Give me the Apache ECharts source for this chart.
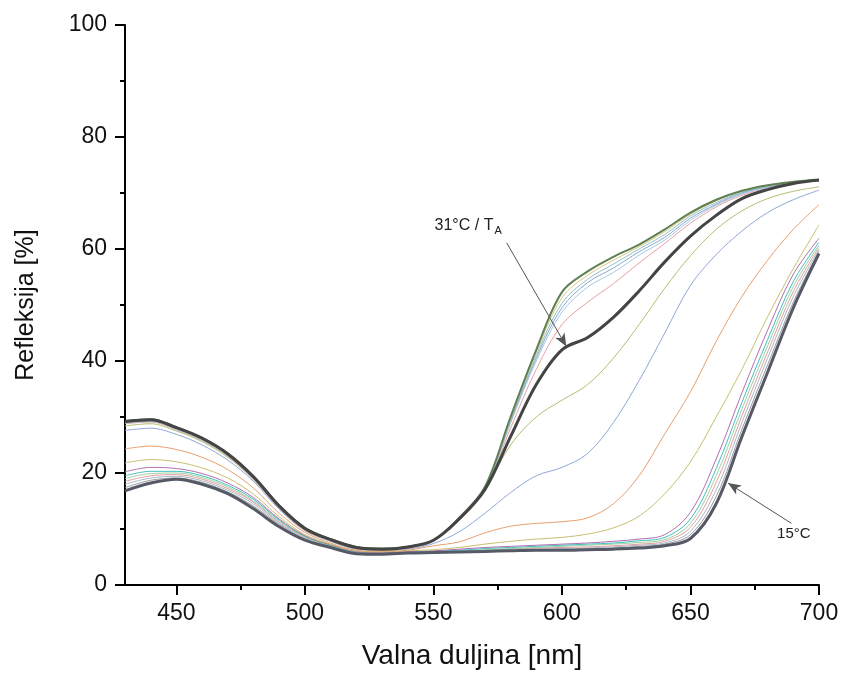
<!DOCTYPE html>
<html>
<head>
<meta charset="utf-8">
<script src="https://cdn.jsdelivr.net/npm/echarts@6/dist/echarts.min.js"></script>
<style>
html,body{margin:0;padding:0;background:#fff;}
#chart{width:843px;height:675px;}
</style>
</head>
<body>
<div id="chart"></div>
<script>
const wavelengths = [430,440,450,460,470,480,490,500,510,520,530,540,550,560,570,580,590,600,610,620,630,640,650,660,670,680,690,700];
const xMajorTicks = [450,500,550,600,650,700];
const xMinorTicks = [475,525,575,625,675];

const curve01 = [16.8,18.2,18.9,18.0,16.3,13.6,10.4,8.0,6.7,5.6,5.5,5.7,5.8,5.9,6.0,6.1,6.2,6.2,6.3,6.4,6.6,7.0,8.3,14.5,26.5,38.0,49.5,59.2];
const curve02 = [17.4,18.7,19.1,18.3,16.6,14.1,10.8,8.2,6.8,5.7,5.6,5.8,5.9,5.9,6.0,6.2,6.3,6.4,6.5,6.6,6.9,7.3,9.0,15.8,27.8,39.3,50.5,59.6];
const curve03 = [18.0,19.1,19.4,18.6,16.9,14.5,11.0,8.4,6.9,5.8,5.6,5.8,5.9,6.0,6.1,6.3,6.4,6.5,6.6,6.8,7.1,7.5,9.6,17.0,29.0,40.5,51.5,59.9];
const curve04 = [18.5,19.5,19.7,18.9,17.2,14.8,11.2,8.5,6.9,5.8,5.7,5.8,5.9,6.0,6.2,6.4,6.6,6.7,6.8,7.0,7.3,7.8,10.3,18.3,30.2,41.6,52.4,60.3];
const curve05 = [19.0,19.9,20.0,19.2,17.5,15.0,11.4,8.6,7.0,5.9,5.7,5.9,6.0,6.1,6.3,6.5,6.7,6.9,7.1,7.3,7.6,8.1,11.0,19.5,31.4,42.7,53.3,60.7];
const curve06 = [19.5,20.3,20.3,19.5,17.8,15.3,11.6,8.7,7.1,5.9,5.8,5.9,6.0,6.2,6.5,6.7,6.9,7.1,7.3,7.5,7.9,8.5,11.8,20.8,32.6,43.8,54.2,61.2];
const curve07 = [20.2,21.0,20.8,19.9,18.2,15.6,11.8,8.8,7.2,6.0,5.8,6.0,6.1,6.4,6.7,6.9,7.1,7.3,7.5,7.8,8.2,9.0,13.0,22.5,34.3,45.5,55.5,61.9];
const curve08 = [21.8,22.4,22.0,20.9,19.1,16.2,12.2,9.0,7.3,6.1,5.9,6.1,6.3,6.7,7.3,7.8,8.2,8.5,9.1,10.2,12.3,16.3,22.0,30.0,38.5,47.9,56.5,64.3];
const curve09 = [24.3,24.8,24.2,22.8,20.6,17.3,12.8,9.4,7.5,6.2,6.0,6.2,7.0,7.7,9.3,10.5,11.0,11.3,12.0,14.5,19.5,27.0,34.5,43.5,51.5,58.0,63.5,67.9];
const curve10 = [27.6,28.0,26.9,25.0,22.3,18.5,13.5,9.7,7.8,6.4,6.2,6.4,7.4,9.5,12.8,16.5,19.5,21.0,23.5,29.0,36.5,45.0,53.5,59.0,63.2,66.5,68.8,70.5];
const curve11 = [28.4,28.8,27.5,25.6,22.8,18.8,13.7,9.8,7.9,6.5,6.2,6.5,7.9,11.5,17.0,25.0,30.0,33.0,35.8,40.5,46.5,53.0,58.8,63.5,66.8,69.0,70.3,71.1];
const curve12 = [29.2,29.5,28.1,26.2,23.4,19.3,14.1,10.1,8.1,6.7,6.4,6.8,8.0,11.8,17.0,26.5,35.8,42.0,44.2,47.8,52.5,57.7,62.3,66.0,69.0,70.6,71.7,72.3];
const curve13 = [28.8,29.1,27.7,25.8,23.0,18.9,13.7,9.8,7.9,6.5,6.3,6.5,7.8,11.5,17.0,28.0,38.5,46.5,50.5,53.8,57.5,61.0,64.6,67.5,69.6,70.9,71.7,72.3];
const curve14 = [28.9,29.2,27.8,25.9,23.1,19.0,13.8,9.9,7.9,6.6,6.3,6.6,7.8,11.6,17.1,28.9,40.0,48.7,53.2,55.8,58.9,61.6,65.1,67.8,69.8,71.0,71.8,72.2];
const curve15 = [29.0,29.3,27.9,26.0,23.2,19.1,13.9,10.0,8.0,6.6,6.3,6.6,7.9,11.7,17.2,29.2,40.5,49.5,54.0,56.6,59.5,62.1,65.5,68.0,70.0,71.1,71.8,72.1];
const curve16 = [29.1,29.4,28.0,26.1,23.3,19.2,14.0,10.0,8.0,6.7,6.4,6.7,7.9,11.8,17.3,29.4,41.0,50.3,54.6,57.3,60.0,62.6,65.9,68.3,70.1,71.2,71.9,72.2];
const curve17 = [29.2,29.5,28.1,26.2,23.4,19.3,14.1,10.1,8.1,6.7,6.4,6.7,8.0,11.9,17.4,29.7,41.5,51.3,55.3,58.0,60.4,63.1,66.2,68.6,70.3,71.3,71.9,72.3];
const curve18 = [29.3,29.6,28.2,26.3,23.5,19.4,14.2,10.2,8.2,6.8,6.5,6.8,8.0,12.0,17.5,30.0,42.0,52.3,56.0,58.6,60.8,63.5,66.5,68.8,70.4,71.4,72.0,72.4];

const curves = [
  {d: curve02, c: '#9a9a9a', w: 1},
  {d: curve03, c: '#a8b8cc', w: 1},
  {d: curve04, c: '#e0a0a0', w: 1},
  {d: curve05, c: '#a0d0a0', w: 1},
  {d: curve06, c: '#40c0c0', w: 1},
  {d: curve07, c: '#b070b0', w: 1},
  {d: curve08, c: '#c8c070', w: 1},
  {d: curve09, c: '#e8a070', w: 1},
  {d: curve10, c: '#90a8d8', w: 1},
  {d: curve11, c: '#b0c070', w: 1},
  {d: curve13, c: '#e8a0a0', w: 1},
  {d: curve14, c: '#a8c8e8', w: 1},
  {d: curve15, c: '#88a8c8', w: 1},
  {d: curve16, c: '#90c0d0', w: 1},
  {d: curve17, c: '#d8c878', w: 1},
  {d: curve18, c: '#5f8055', w: 2},
  {d: curve01, c: '#555a66', w: 3, tag: '15'},
  {d: curve12, c: '#444444', w: 3, tag: '31'}
];

const font = 'Liberation Sans, Arial, sans-serif';

const series = curves.map(cv => {
  const s = {
    type: 'line',
    xAxisIndex: 0,
    data: wavelengths.map((w, i) => [w, cv.d[i]]),
    showSymbol: false,
    smooth: 0.35,
    lineStyle: {color: cv.c, width: cv.w},
    silent: true,
    z: cv.w > 1 ? 3 : 2
  };
  if (cv.tag === '31') {
    s.markLine = {
      silent: true, symbol: ['none', 'arrow'], symbolSize: [8, 13],
      lineStyle: {color: '#555', width: 1, type: 'solid'}, label: {show: false},
      data: [[{coord: [578.5, 61.1]}, {coord: [601.7, 42.6]}]]
    };
    s.markPoint = {
      silent: true, symbol: 'circle', symbolSize: 1, itemStyle: {color: 'rgba(0,0,0,0)'},
      label: {show: true, position: 'inside', formatter: '{a|31°C / T}{b|A}',
        rich: {a: {fontSize: 16, color: '#222', fontFamily: font}, b: {fontSize: 11, color: '#222', fontFamily: font, padding: [10, 0, 0, 1]}}},
      data: [{coord: [563.5, 64.2]}]
    };
  }
  if (cv.tag === '15') {
    s.markLine = {
      silent: true, symbol: ['none', 'arrow'], symbolSize: [8, 13],
      lineStyle: {color: '#555', width: 1, type: 'solid'}, label: {show: false},
      data: [[{coord: [689.3, 11.0]}, {coord: [664.6, 18.2]}]]
    };
    s.markPoint = {
      silent: true, symbol: 'circle', symbolSize: 1, itemStyle: {color: 'rgba(0,0,0,0)'},
      label: {show: true, position: 'inside', formatter: '15°C', fontSize: 15, color: '#222', fontFamily: font},
      data: [{coord: [690.2, 9.2]}]
    };
  }
  return s;
});

const chart = echarts.init(document.getElementById('chart'), null, {renderer: 'canvas'});
chart.setOption({
  backgroundColor: '#fff',
  animation: false,
  grid: {left: 125, right: 24, top: 25, bottom: 90, containLabel: false},
  xAxis: [{
    type: 'value', min: 430, max: 700,
    name: 'Valna duljina [nm]', nameLocation: 'middle', nameGap: 57,
    nameTextStyle: {fontSize: 28, color: '#111', fontFamily: font},
    axisLine: {show: true, onZero: false, lineStyle: {color: '#000', width: 2}},
    axisTick: {show: true, inside: false, length: 10, lineStyle: {color: '#000', width: 2}, customValues: xMajorTicks},
    axisLabel: {show: true, fontSize: 23, color: '#111', fontFamily: font, margin: 17, customValues: xMajorTicks},
    splitLine: {show: false}
  }, {
    type: 'value', min: 430, max: 700, position: 'bottom',
    axisLine: {show: false, onZero: false},
    axisTick: {show: true, inside: false, length: 5, lineStyle: {color: '#000', width: 2}, customValues: xMinorTicks},
    axisLabel: {show: false},
    splitLine: {show: false}
  }],
  yAxis: {
    type: 'value', min: 0, max: 100, interval: 20,
    name: 'Refleksija [%]', nameLocation: 'middle', nameGap: 86,
    nameTextStyle: {fontSize: 25, color: '#111', fontFamily: font},
    axisLine: {show: true, lineStyle: {color: '#000', width: 2}},
    axisTick: {show: true, inside: false, length: 10, lineStyle: {color: '#000', width: 2}},
    minorTick: {show: true, splitNumber: 2, length: 5, lineStyle: {color: '#000', width: 2}},
    axisLabel: {fontSize: 23, color: '#111', fontFamily: font, margin: 18},
    splitLine: {show: false}
  },
  series: series
});
</script>
</body>
</html>
